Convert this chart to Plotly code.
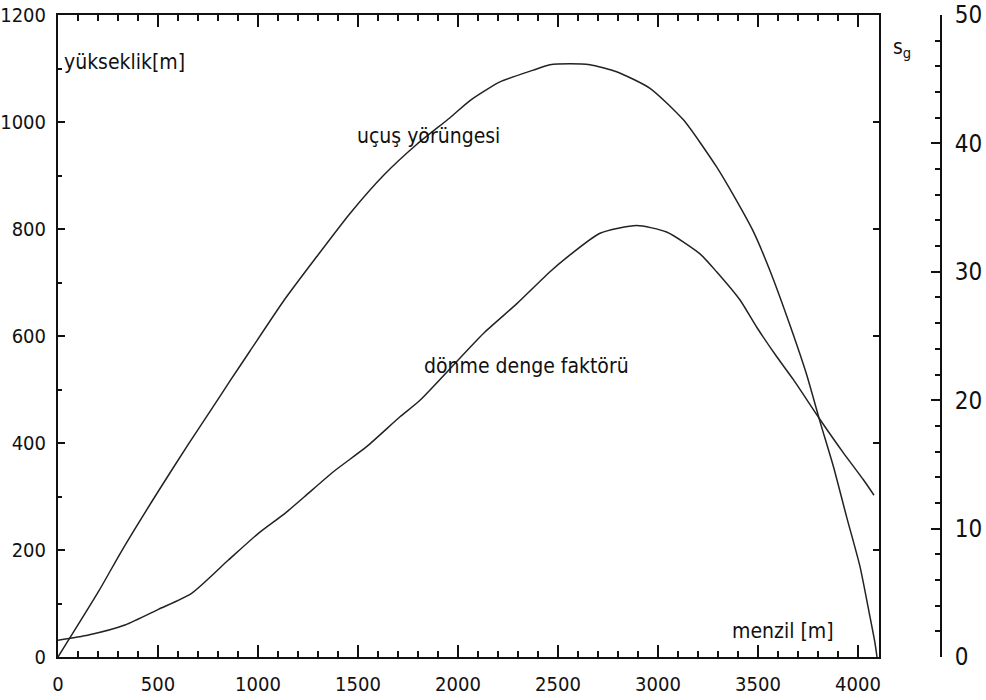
import plotly.graph_objects as go

# Trajectory: range [m] vs height [m]
traj_range = [0, 202, 318, 485, 652, 785, 860, 960, 1127, 1293, 1460, 1627, 1793, 1960, 2060,
              2210, 2377, 2460, 2560, 2660, 2793, 2960, 3127, 3293, 3385, 3477, 3560, 3660,
              3743, 3810, 3877, 3943, 4010, 4060, 4085, 4095]
traj_height = [0, 122, 198, 300, 398, 473, 516, 572, 665, 748, 829, 900, 958, 1008, 1040,
               1075, 1097, 1107, 1109, 1107, 1094, 1063, 1004, 916, 858, 795, 722, 620,
               528, 440, 356, 262, 169, 75, 26, 0]

# Gyroscopic stability factor s_g vs range
sg_range = [0, 152, 335, 502, 668, 852, 1002, 1135, 1232, 1377, 1543, 1710, 1810, 2127, 2293,
            2460, 2543, 2710, 2893, 3043, 3210, 3293, 3410, 3493, 3593, 3677, 3810, 3927,
            4027, 4080]
sg_value = [1.3, 1.71, 2.49, 3.71, 4.96, 7.55, 9.63, 11.19, 12.48, 14.43, 16.38, 18.71, 20.0,
            25.2, 27.5, 30.0, 31.1, 33.0, 33.6, 33.1, 31.4, 30.0, 27.8, 25.7, 23.4, 21.6, 18.5,
            15.9, 13.8, 12.6]

x_ticks = [0, 500, 1000, 1500, 2000, 2500, 3000, 3500, 4000]
y_ticks = [0, 200, 400, 600, 800, 1000, 1200]
sg_ticks = [0, 10, 20, 30, 40, 50]

FONT = "DejaVu Sans Condensed, Liberation Sans Narrow, Liberation Sans, Arial"
BLACK = "#111111"

fig = go.Figure()
fig.add_trace(go.Scatter(x=traj_range, y=traj_height, mode="lines",
                         line=dict(color="#222222", width=1.5, shape="spline", smoothing=0.6),
                         xaxis="x", yaxis="y", showlegend=False))
fig.add_trace(go.Scatter(x=sg_range, y=sg_value, mode="lines",
                         line=dict(color="#222222", width=1.5, shape="spline", smoothing=0.6),
                         xaxis="x", yaxis="y2", showlegend=False))

dom_end = (879 - 58) / (986 - 58 - 45)

fig.update_layout(
    width=986, height=700,
    margin=dict(l=58, r=45, t=15, b=43, autoexpand=False),
    plot_bgcolor="white", paper_bgcolor="white",
    font=dict(family=FONT, color=BLACK, size=20),
    xaxis=dict(domain=[0, dom_end], range=[0, 4105], tickvals=x_ticks,
               ticks="inside", ticklen=12, tickwidth=1.5, tickcolor=BLACK,
               minor=dict(dtick=100, tick0=0, ticks="inside", ticklen=6, tickwidth=1.5,
                          tickcolor=BLACK, showgrid=False),
               showline=True, linecolor=BLACK, linewidth=2, mirror=True,
               showgrid=False, zeroline=False, anchor="y", automargin=False,
               tickfont=dict(family=FONT, size=20), ticklabelstandoff=8),
    xaxis2=dict(overlaying="x", side="top", anchor="y", range=[0, 4105], tickvals=x_ticks,
                ticks="inside", ticklen=12, tickwidth=1.5, tickcolor=BLACK,
                minor=dict(dtick=100, tick0=0, ticks="inside", ticklen=6, tickwidth=1.5,
                           tickcolor=BLACK, showgrid=False),
                showticklabels=False, showline=False, showgrid=False, zeroline=False,
                automargin=False),
    yaxis=dict(range=[0, 1200], tickvals=y_ticks, ticks="inside", ticklen=7,
               tickwidth=1.5, tickcolor=BLACK,
               minor=dict(dtick=100, tick0=0, ticks="inside", ticklen=4, tickwidth=1.5,
                          tickcolor=BLACK, showgrid=False),
               showline=True, linecolor=BLACK, linewidth=2, mirror=True,
               showgrid=False, zeroline=False, anchor="x", automargin=False,
               tickfont=dict(family=FONT, size=20), ticklabelstandoff=6),
    yaxis3=dict(overlaying="y", side="right", anchor="x", range=[0, 1200], tickvals=y_ticks,
                ticks="inside", ticklen=6, tickwidth=1.5, tickcolor=BLACK,
                showticklabels=False, showline=False, showgrid=False, zeroline=False,
                automargin=False),
    yaxis2=dict(overlaying="y", side="right", anchor="free", position=1.0,
                range=[0, 50], tickvals=sg_ticks,
                ticks="inside", ticklen=9, tickwidth=1.5, tickcolor=BLACK,
                minor=dict(dtick=2, tick0=0, ticks="inside", ticklen=5, tickwidth=1.5,
                           tickcolor=BLACK, showgrid=False),
                showline=True, linecolor=BLACK, linewidth=2,
                showgrid=False, zeroline=False, automargin=False,
                tickfont=dict(family=FONT, size=24), ticklabelstandoff=8),
)

# invisible traces so the helper axes render
fig.add_trace(go.Scatter(x=[None], y=[None], xaxis="x2", yaxis="y", showlegend=False))
fig.add_trace(go.Scatter(x=[None], y=[None], xaxis="x", yaxis="y3", showlegend=False))

ann = dict(showarrow=False, font=dict(family=FONT, size=21, color=BLACK))
fig.add_annotation(text="yükseklik[m]", xref="paper", yref="paper",
                   x=(62 - 58) / 883, y=(657 - 62) / 642, xanchor="left", yanchor="middle", **ann)
fig.add_annotation(text="uçuş yörüngesi", xref="x", yref="y", x=1850, y=(657 - 136) / 0.535,
                   xanchor="center", yanchor="middle", **ann)
fig.add_annotation(text="dönme denge faktörü", xref="x", yref="y", x=2340, y=(657 - 366) / 0.535,
                   xanchor="center", yanchor="middle", **ann)
fig.add_annotation(text="menzil [m]", xref="x", yref="y", x=3625, y=(657 - 631) / 0.535,
                   xanchor="center", yanchor="middle", **ann)
fig.add_annotation(text="s<sub>g</sub>", xref="paper", yref="paper",
                   x=(902 - 58) / 883, y=(657 - 48) / 642, xanchor="center", yanchor="middle",
                   showarrow=False, font=dict(family=FONT, size=21, color=BLACK))

fig.write_html("out.html")
